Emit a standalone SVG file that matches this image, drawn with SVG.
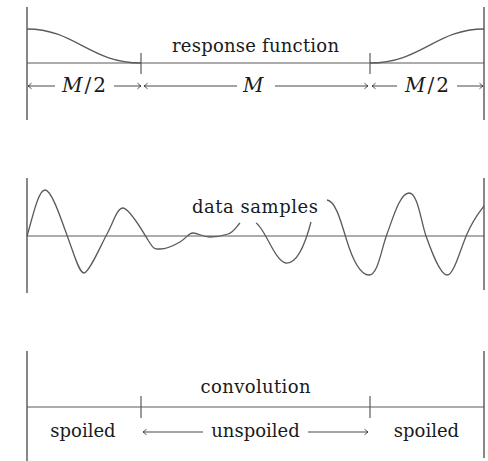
<svg xmlns="http://www.w3.org/2000/svg" width="488" height="461" viewBox="0 0 488 461">
<style>
.frame{stroke:#6a6a6a;stroke-width:1.6;fill:none}
.axis{stroke:#5a5a5a;stroke-width:1.2;fill:none}
.curve{stroke:#5a5a5a;stroke-width:1.3;fill:none}
.arr{stroke:#333;stroke-width:0.9;fill:none;marker-end:url(#ah)}
.t{font-family:"DejaVu Serif","Liberation Serif",serif;font-size:18px;fill:#1a1a1a}
.m{font-family:"DejaVu Serif","Liberation Serif",serif;font-size:20px;fill:#1a1a1a}
</style>
<defs>
<marker id="ah" markerWidth="8" markerHeight="8" viewBox="-5 -4 6 8" refX="0" refY="0" orient="auto" markerUnits="userSpaceOnUse">
<path d="M-3.5,-2.8 Q-1,-0.6 0,0 Q-1,0.6 -3.5,2.8" stroke="#333" stroke-width="0.9" fill="none"/>
</marker>
</defs>

<g id="panel-response">
<line class="frame" x1="27" y1="7" x2="27" y2="120"/>
<line class="frame" x1="484" y1="7" x2="484" y2="120"/>
<line class="axis" x1="27" y1="63" x2="484" y2="63"/>
<line class="axis" x1="141" y1="53" x2="141" y2="74"/>
<line class="axis" x1="370" y1="53" x2="370" y2="74"/>
<path class="curve" d="M27,29 C75,29 90,63 141,63"/>
<path class="curve" d="M370,63 C421,63 436,29 484,29"/>
<text class="t" x="255.5" y="52" text-anchor="middle" textLength="167">response function</text>
</g>

<g id="connectors">
<line class="arr" x1="55" y1="86" x2="28" y2="86"/>
<line class="arr" x1="114" y1="86" x2="141" y2="86"/>
<line class="arr" x1="237" y1="86" x2="144" y2="86"/>
<line class="arr" x1="275" y1="86" x2="368" y2="86"/>
<line class="arr" x1="397" y1="86" x2="372" y2="86"/>
<line class="arr" x1="457" y1="86" x2="483" y2="86"/>
<line class="arr" x1="203" y1="432" x2="143" y2="432"/>
<line class="arr" x1="308" y1="432" x2="368" y2="432"/>
</g>

<g id="labels-M">
<text class="m" x="62" y="92" textLength="44"><tspan font-style="italic">M</tspan>/2</text>
<text class="m" x="243" y="92" textLength="22" font-style="italic">M</text>
<text class="m" x="405" y="92" textLength="44"><tspan font-style="italic">M</tspan>/2</text>
</g>

<g id="panel-data">
<line class="frame" x1="27" y1="178" x2="27" y2="293"/>
<line class="frame" x1="484" y1="178" x2="484" y2="290"/>
<line class="axis" x1="27" y1="236" x2="484" y2="236"/>
<path class="curve" d="M27,236 C32,220 38,190 45,190 S62,222 68,238 S79,273 84,273 S101,245 107,234 S117,208 123,208 S142,230 148,240 S155,249 160,249 S173,246 180,242 S188,233 193,233 S203,237 210,237 S222,236 228,234 S236,227 240,223"/>
<path class="curve" d="M256,223 C265,228 275,262 286,263 S305,245 311,222"/>
<path class="curve" d="M327,200 C335,201 340,218 346,238 S360,275 369,275 S381,250 387,234 S400,193 409,193 S421,222 426,236 S440,275 447,275 S460,250 467,234 S478,214 484,206"/>
<text class="t" x="255" y="213" text-anchor="middle" textLength="126">data samples</text>
</g>

<g id="panel-convolution">
<line class="frame" x1="27" y1="351" x2="27" y2="461"/>
<line class="frame" x1="484" y1="351" x2="484" y2="458"/>
<line class="axis" x1="27" y1="407" x2="484" y2="407"/>
<line class="axis" x1="141" y1="396" x2="141" y2="418"/>
<line class="axis" x1="370" y1="396" x2="370" y2="418"/>
<text class="t" x="255.5" y="393" text-anchor="middle" textLength="110">convolution</text>
<text class="t" x="83" y="437" text-anchor="middle">spoiled</text>
<text class="t" x="255.5" y="437" text-anchor="middle">unspoiled</text>
<text class="t" x="426.5" y="437" text-anchor="middle">spoiled</text>
</g>
</svg>
